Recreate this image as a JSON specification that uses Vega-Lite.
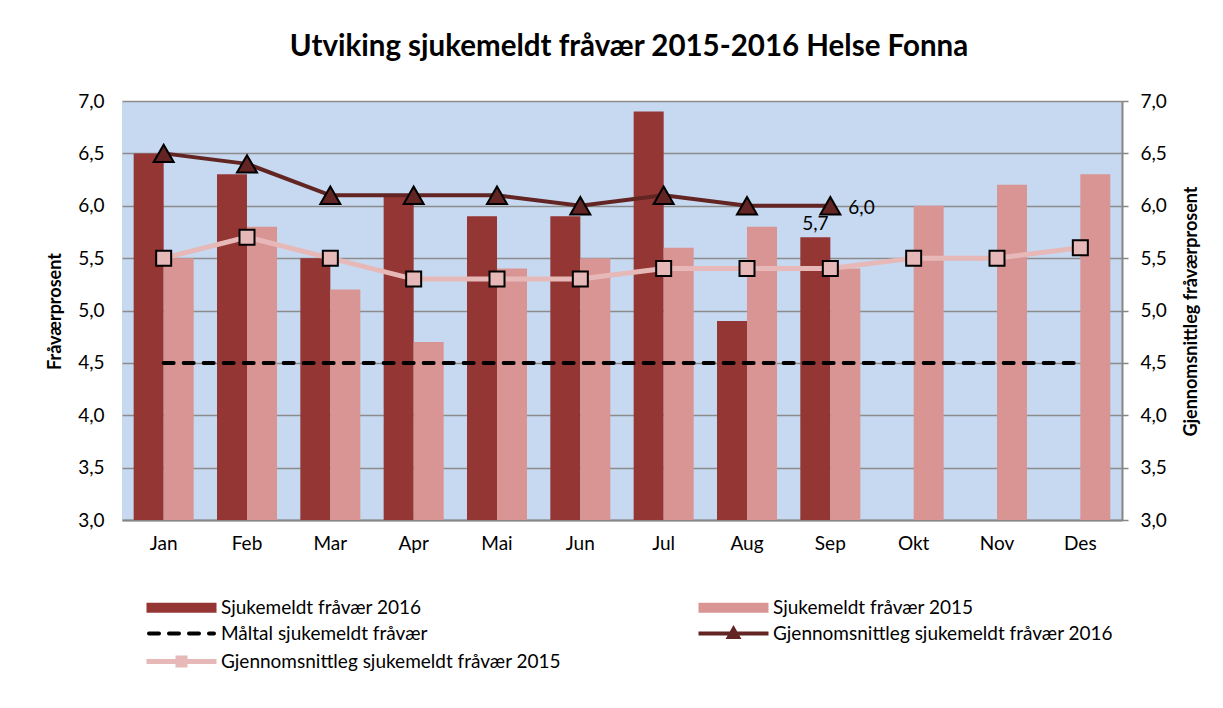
{
  "$schema": "https://vega.github.io/schema/vega-lite/v6.json",
  "width": 1000,
  "height": 419,
  "autosize": {"type": "none"},
  "padding": {"left": 122, "top": 101, "right": 101, "bottom": 188},
  "background": "white",
  "title": {
    "text": "Utviking sjukemeldt fråvær 2015-2016 Helse Fonna",
    "font": "Lato", "fontSize": 29.5, "fontWeight": "bold", "color": "black",
    "anchor": "middle", "frame": "group", "offset": 30, "dx": 7
  },
  "config": {
    "font": "Lato",
    "view": {"fill": "#C6D9F1", "stroke": null},
    "locale": {"number": {"decimal": ",", "thousands": " ", "grouping": [3], "currency": ["", " kr"]}},
    "axis": {"labelColor": "black", "titleColor": "black", "labelFont": "Lato", "titleFont": "Lato"}
  },
  "data": {"values": [
    {"month": "Jan", "series": "Sjukemeldt fråvær 2016", "value": 6.5},
    {"month": "Feb", "series": "Sjukemeldt fråvær 2016", "value": 6.3},
    {"month": "Mar", "series": "Sjukemeldt fråvær 2016", "value": 5.5},
    {"month": "Apr", "series": "Sjukemeldt fråvær 2016", "value": 6.1},
    {"month": "Mai", "series": "Sjukemeldt fråvær 2016", "value": 5.9},
    {"month": "Jun", "series": "Sjukemeldt fråvær 2016", "value": 5.9},
    {"month": "Jul", "series": "Sjukemeldt fråvær 2016", "value": 6.9},
    {"month": "Aug", "series": "Sjukemeldt fråvær 2016", "value": 4.9},
    {"month": "Sep", "series": "Sjukemeldt fråvær 2016", "value": 5.7},
    {"month": "Jan", "series": "Sjukemeldt fråvær 2015", "value": 5.5},
    {"month": "Feb", "series": "Sjukemeldt fråvær 2015", "value": 5.8},
    {"month": "Mar", "series": "Sjukemeldt fråvær 2015", "value": 5.2},
    {"month": "Apr", "series": "Sjukemeldt fråvær 2015", "value": 4.7},
    {"month": "Mai", "series": "Sjukemeldt fråvær 2015", "value": 5.4},
    {"month": "Jun", "series": "Sjukemeldt fråvær 2015", "value": 5.5},
    {"month": "Jul", "series": "Sjukemeldt fråvær 2015", "value": 5.6},
    {"month": "Aug", "series": "Sjukemeldt fråvær 2015", "value": 5.8},
    {"month": "Sep", "series": "Sjukemeldt fråvær 2015", "value": 5.4},
    {"month": "Okt", "series": "Sjukemeldt fråvær 2015", "value": 6.0},
    {"month": "Nov", "series": "Sjukemeldt fråvær 2015", "value": 6.2},
    {"month": "Des", "series": "Sjukemeldt fråvær 2015", "value": 6.3},
    {"month": "Jan", "series": "Måltal sjukemeldt fråvær", "value": 4.5},
    {"month": "Feb", "series": "Måltal sjukemeldt fråvær", "value": 4.5},
    {"month": "Mar", "series": "Måltal sjukemeldt fråvær", "value": 4.5},
    {"month": "Apr", "series": "Måltal sjukemeldt fråvær", "value": 4.5},
    {"month": "Mai", "series": "Måltal sjukemeldt fråvær", "value": 4.5},
    {"month": "Jun", "series": "Måltal sjukemeldt fråvær", "value": 4.5},
    {"month": "Jul", "series": "Måltal sjukemeldt fråvær", "value": 4.5},
    {"month": "Aug", "series": "Måltal sjukemeldt fråvær", "value": 4.5},
    {"month": "Sep", "series": "Måltal sjukemeldt fråvær", "value": 4.5},
    {"month": "Okt", "series": "Måltal sjukemeldt fråvær", "value": 4.5},
    {"month": "Nov", "series": "Måltal sjukemeldt fråvær", "value": 4.5},
    {"month": "Des", "series": "Måltal sjukemeldt fråvær", "value": 4.5},
    {"month": "Jan", "series": "Gjennomsnittleg sjukemeldt fråvær 2016", "value": 6.5},
    {"month": "Feb", "series": "Gjennomsnittleg sjukemeldt fråvær 2016", "value": 6.4},
    {"month": "Mar", "series": "Gjennomsnittleg sjukemeldt fråvær 2016", "value": 6.1},
    {"month": "Apr", "series": "Gjennomsnittleg sjukemeldt fråvær 2016", "value": 6.1},
    {"month": "Mai", "series": "Gjennomsnittleg sjukemeldt fråvær 2016", "value": 6.1},
    {"month": "Jun", "series": "Gjennomsnittleg sjukemeldt fråvær 2016", "value": 6.0},
    {"month": "Jul", "series": "Gjennomsnittleg sjukemeldt fråvær 2016", "value": 6.1},
    {"month": "Aug", "series": "Gjennomsnittleg sjukemeldt fråvær 2016", "value": 6.0},
    {"month": "Sep", "series": "Gjennomsnittleg sjukemeldt fråvær 2016", "value": 6.0},
    {"month": "Jan", "series": "Gjennomsnittleg sjukemeldt fråvær 2015", "value": 5.5},
    {"month": "Feb", "series": "Gjennomsnittleg sjukemeldt fråvær 2015", "value": 5.7},
    {"month": "Mar", "series": "Gjennomsnittleg sjukemeldt fråvær 2015", "value": 5.5},
    {"month": "Apr", "series": "Gjennomsnittleg sjukemeldt fråvær 2015", "value": 5.3},
    {"month": "Mai", "series": "Gjennomsnittleg sjukemeldt fråvær 2015", "value": 5.3},
    {"month": "Jun", "series": "Gjennomsnittleg sjukemeldt fråvær 2015", "value": 5.3},
    {"month": "Jul", "series": "Gjennomsnittleg sjukemeldt fråvær 2015", "value": 5.4},
    {"month": "Aug", "series": "Gjennomsnittleg sjukemeldt fråvær 2015", "value": 5.4},
    {"month": "Sep", "series": "Gjennomsnittleg sjukemeldt fråvær 2015", "value": 5.4},
    {"month": "Okt", "series": "Gjennomsnittleg sjukemeldt fråvær 2015", "value": 5.5},
    {"month": "Nov", "series": "Gjennomsnittleg sjukemeldt fråvær 2015", "value": 5.5},
    {"month": "Des", "series": "Gjennomsnittleg sjukemeldt fråvær 2015", "value": 5.6}
  ]},
  "resolve": {"axis": {"y": "independent"}},
  "layer": [
    {
      "transform": [{"filter": {"field": "series", "oneOf": ["Sjukemeldt fråvær 2016", "Sjukemeldt fråvær 2015"]}}],
      "mark": {"type": "bar"},
      "encoding": {
        "x": {"field": "month", "type": "nominal",
          "sort": ["Jan","Feb","Mar","Apr","Mai","Jun","Jul","Aug","Sep","Okt","Nov","Des"],
          "scale": {"paddingInner": 0.28, "paddingOuter": 0.14},
          "axis": {"title": null, "labelAngle": 0, "labelFontSize": 19, "labelPadding": 14, "ticks": false, "domainColor": "#868686", "domainWidth": 2, "grid": false}},
        "xOffset": {"field": "series", "type": "nominal",
          "scale": {"domain": ["Sjukemeldt fråvær 2016", "Sjukemeldt fråvær 2015"], "paddingInner": 0, "paddingOuter": 0}},
        "y": {"field": "value", "type": "quantitative",
          "scale": {"domain": [3, 7], "nice": false, "zero": false},
          "axis": {"orient": "left", "values": [3, 3.5, 4, 4.5, 5, 5.5, 6, 6.5, 7], "format": ".1f",
            "grid": true, "gridColor": "#8c8c8c", "gridWidth": 1.5, "domain": false, "ticks": false,
            "labelFontSize": 19, "labelPadding": 18,
            "title": "Fråværprosent", "titleFontSize": 18, "titleFontWeight": "bold",
            "titleAngle": 270, "titleBaseline": "middle", "titleAlign": "center", "titleX": -67, "titleY": 210}},
        "y2": {"datum": 3},
        "color": {"field": "series", "type": "nominal",
          "scale": {
            "domain": ["Sjukemeldt fråvær 2016", "Sjukemeldt fråvær 2015", "Måltal sjukemeldt fråvær", "Gjennomsnittleg sjukemeldt fråvær 2016", "Gjennomsnittleg sjukemeldt fråvær 2015"],
            "range": ["#943634", "#D99594", "#000000", "#632523", "#E6B9B8"]},
          "legend": {
            "title": null, "orient": "none", "legendX": 0, "legendY": 497, "columns": 2, "direction": "horizontal",
            "columnPadding": 112, "rowPadding": 3, "labelFontSize": 19, "labelLimit": 600, "labelColor": "black",
            "symbolSize": 100, "symbolOffset": 50, "labelOffset": 30,
            "encode": {"symbols": {"update": {
              "opacity": {"value": 1},
              "size": {"value": 100},
              "shape": {"signal": "(datum.value==='Sjukemeldt fråvær 2016' || datum.value==='Sjukemeldt fråvær 2015') ? 'M-7,-1H7V1H-7Z' : datum.value==='Måltal sjukemeldt fråvær' ? 'M-6.5,0H6.5' : datum.value==='Gjennomsnittleg sjukemeldt fråvær 2016' ? 'M-7,0H7M0,-0.9L0.9,0.7H-0.9Z' : 'M-7,0H7M-0.7,-0.7H0.7V0.7H-0.7Z'"},
              "fill": {"signal": "datum.value==='Sjukemeldt fråvær 2016' ? '#943634' : datum.value==='Sjukemeldt fråvær 2015' ? '#D99594' : datum.value==='Måltal sjukemeldt fråvær' ? 'transparent' : datum.value==='Gjennomsnittleg sjukemeldt fråvær 2016' ? '#632523' : '#E6B9B8'"},
              "stroke": {"signal": "(datum.value==='Sjukemeldt fråvær 2016' || datum.value==='Sjukemeldt fråvær 2015') ? 'transparent' : datum.value==='Måltal sjukemeldt fråvær' ? '#000000' : datum.value==='Gjennomsnittleg sjukemeldt fråvær 2016' ? '#632523' : '#E6B9B8'"},
              "strokeWidth": {"signal": "(datum.value==='Sjukemeldt fråvær 2016' || datum.value==='Sjukemeldt fråvær 2015') ? 0 : datum.value==='Gjennomsnittleg sjukemeldt fråvær 2015' ? 5 : 4"},
              "strokeDash": {"signal": "datum.value==='Måltal sjukemeldt fråvær' ? [10,10] : []"},
              "strokeCap": {"signal": "datum.value==='Måltal sjukemeldt fråvær' ? 'round' : 'butt'"}
            }}}
          }}
      }
    },
    {
      "transform": [{"filter": {"field": "series", "equal": "Måltal sjukemeldt fråvær"}}],
      "mark": {"type": "line", "strokeWidth": 4, "strokeDash": [10, 10], "strokeCap": "round"},
      "encoding": {
        "x": {"field": "month", "type": "nominal", "sort": ["Jan","Feb","Mar","Apr","Mai","Jun","Jul","Aug","Sep","Okt","Nov","Des"]},
        "y": {"field": "value", "type": "quantitative", "axis": null},
        "color": {"field": "series", "type": "nominal"}
      }
    },
    {
      "transform": [{"filter": {"field": "series", "equal": "Gjennomsnittleg sjukemeldt fråvær 2016"}}],
      "mark": {"type": "line", "strokeWidth": 4},
      "encoding": {
        "x": {"field": "month", "type": "nominal", "sort": ["Jan","Feb","Mar","Apr","Mai","Jun","Jul","Aug","Sep","Okt","Nov","Des"]},
        "y": {"field": "value", "type": "quantitative", "axis": null},
        "color": {"field": "series", "type": "nominal"}
      }
    },
    {
      "transform": [{"filter": {"field": "series", "equal": "Gjennomsnittleg sjukemeldt fråvær 2015"}}],
      "mark": {"type": "line", "strokeWidth": 5},
      "encoding": {
        "x": {"field": "month", "type": "nominal", "sort": ["Jan","Feb","Mar","Apr","Mai","Jun","Jul","Aug","Sep","Okt","Nov","Des"]},
        "y": {"field": "value", "type": "quantitative",
          "axis": {"orient": "right", "values": [3, 3.5, 4, 4.5, 5, 5.5, 6, 6.5, 7], "format": ".1f",
            "grid": false, "domain": true, "domainColor": "#868686", "domainWidth": 2,
            "ticks": true, "tickSize": 6, "tickColor": "#868686", "tickWidth": 1.5,
            "labelFontSize": 19, "labelPadding": 12,
            "title": "Gjennomsnittleg fråværprosent", "titleFontSize": 18, "titleFontWeight": "bold",
            "titleAngle": 270, "titleBaseline": "middle", "titleAlign": "center", "titleX": 69, "titleY": 210}},
        "color": {"field": "series", "type": "nominal"}
      }
    },
    {
      "transform": [{"filter": {"field": "series", "equal": "Gjennomsnittleg sjukemeldt fråvær 2016"}}],
      "mark": {"type": "point", "shape": "triangle-up", "filled": true, "size": 400, "stroke": "black", "strokeWidth": 2, "opacity": 1},
      "encoding": {
        "x": {"field": "month", "type": "nominal", "sort": ["Jan","Feb","Mar","Apr","Mai","Jun","Jul","Aug","Sep","Okt","Nov","Des"]},
        "y": {"field": "value", "type": "quantitative", "axis": null},
        "color": {"field": "series", "type": "nominal"}
      }
    },
    {
      "transform": [{"filter": {"field": "series", "equal": "Gjennomsnittleg sjukemeldt fråvær 2015"}}],
      "mark": {"type": "point", "shape": "square", "filled": true, "size": 225, "stroke": "black", "strokeWidth": 2, "opacity": 1},
      "encoding": {
        "x": {"field": "month", "type": "nominal", "sort": ["Jan","Feb","Mar","Apr","Mai","Jun","Jul","Aug","Sep","Okt","Nov","Des"]},
        "y": {"field": "value", "type": "quantitative", "axis": null},
        "color": {"field": "series", "type": "nominal"}
      }
    },
    {
      "transform": [{"filter": {"and": [{"field": "series", "equal": "Sjukemeldt fråvær 2016"}, {"field": "month", "equal": "Sep"}]}}],
      "mark": {"type": "text", "baseline": "bottom", "dy": -3, "fontSize": 19, "color": "black"},
      "encoding": {
        "x": {"field": "month", "type": "nominal", "sort": ["Jan","Feb","Mar","Apr","Mai","Jun","Jul","Aug","Sep","Okt","Nov","Des"]},
        "xOffset": {"field": "series", "type": "nominal"},
        "y": {"field": "value", "type": "quantitative", "axis": null},
        "text": {"field": "value", "type": "quantitative", "format": ".1f"}
      }
    },
    {
      "transform": [{"filter": {"and": [{"field": "series", "equal": "Gjennomsnittleg sjukemeldt fråvær 2016"}, {"field": "month", "equal": "Sep"}]}}],
      "mark": {"type": "text", "align": "left", "baseline": "middle", "dx": 18, "dy": 2, "fontSize": 19, "color": "black"},
      "encoding": {
        "x": {"field": "month", "type": "nominal", "sort": ["Jan","Feb","Mar","Apr","Mai","Jun","Jul","Aug","Sep","Okt","Nov","Des"]},
        "y": {"field": "value", "type": "quantitative", "axis": null},
        "text": {"field": "value", "type": "quantitative", "format": ".1f"}
      }
    }
  ]
}
